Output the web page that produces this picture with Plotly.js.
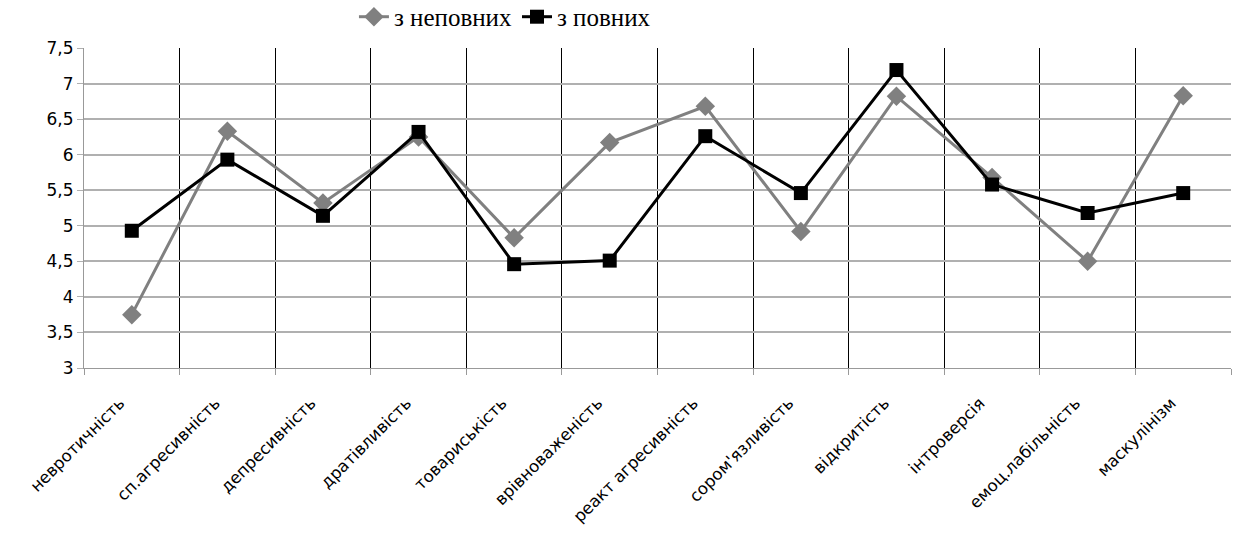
<!DOCTYPE html>
<html>
<head>
<meta charset="utf-8">
<script src="https://cdn.plot.ly/plotly-3.0.1.min.js"></script>
<style>html,body{margin:0;padding:0;background:#fff;}#chart{width:1233px;height:543px;}</style>
</head>
<body>
<div id="chart"></div>
<script>
const categories = ["невротичність", "сп.агресивність", "депресивність", "дратівливість", "товариськість", "врівноваженість", "реакт агресивність", "сором'язливість", "відкритість", "інтроверсія", "емоц.лабільність", "маскулінізм"];
const incomplete = [3.75, 6.33, 5.32, 6.25, 4.83, 6.17, 6.68, 4.92, 6.82, 5.68, 4.5, 6.83];
const complete = [4.93, 5.93, 5.14, 6.32, 4.46, 4.51, 6.26, 5.46, 7.19, 5.58, 5.18, 5.46];
const seriesNames = ["з неповних", "з повних"];

const traces = [
  {x: categories, y: incomplete, name: seriesNames[0], type: "scatter", mode: "lines+markers",
   line: {color: "#808080", width: 3}, marker: {symbol: "diamond", size: 15, color: "#808080"}},
  {x: categories, y: complete, name: seriesNames[1], type: "scatter", mode: "lines+markers",
   line: {color: "#000000", width: 3}, marker: {symbol: "square", size: 14, color: "#000000"}}
];

const layout = {
  width: 1233, height: 543,
  margin: {l: 84, r: 2, t: 48, b: 175, autoexpand: false},
  paper_bgcolor: "#fff", plot_bgcolor: "#fff",
  separators: ", ",
  showlegend: true,
  legend: {orientation: "h", x: 0.367, xanchor: "center", y: 1.097, yanchor: "middle",
           font: {family: "Liberation Serif, Times New Roman, serif", size: 25, color: "#000"},
           tracegroupgap: 0},
  xaxis: {
    type: "category", tickson: "boundaries", showgrid: true, gridcolor: "#000", gridwidth: 1,
    ticks: "outside", ticklen: 6, tickcolor: "#999", showline: true, linecolor: "#999",
    tickangle: -45, ticklabelstandoff: 18, ticklabelshift: -12,
    tickfont: {family: "DejaVu Sans, Verdana, sans-serif", size: 16.5, color: "#000"},
    range: [-0.5, 11.5], zeroline: false, fixedrange: true
  },
  yaxis: {
    range: [3, 7.5], dtick: 0.5, tick0: 3, showgrid: true, gridcolor: "#b0b0b0", gridwidth: 2,
    ticks: "outside", ticklen: 6, tickcolor: "#b0b0b0", showline: true, linecolor: "#999",
    tickfont: {family: "DejaVu Sans, Verdana, sans-serif", size: 17, color: "#000"},
    zeroline: false, fixedrange: true
  }
};

Plotly.newPlot("chart", traces, layout, {displayModeBar: false, staticPlot: true});
</script>
</body>
</html>
